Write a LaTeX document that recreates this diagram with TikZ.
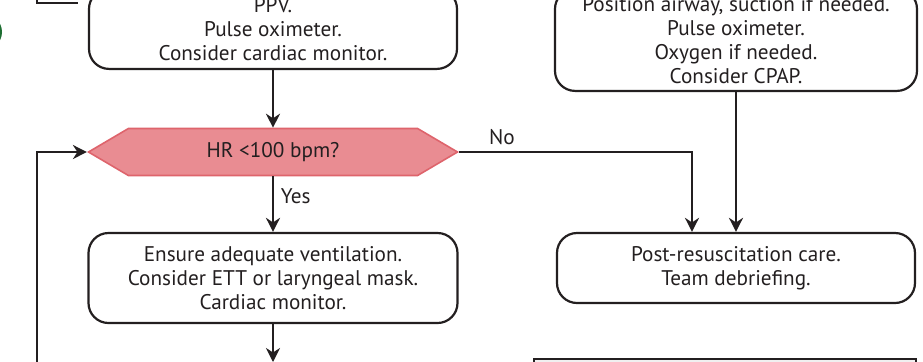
\documentclass[tikz,border=0pt]{standalone}
\usepackage{fontspec}
\setmainfont{PT Sans}
\usetikzlibrary{arrows.meta,shapes.symbols}
\definecolor{hexfill}{RGB}{233,140,146}
\definecolor{hexline}{RGB}{222,100,108}
\definecolor{ink}{RGB}{35,31,32}
\definecolor{startgreen}{RGB}{30,110,50}
\tikzset{
  stepbox/.style={draw=ink, line width=1.1pt, rounded corners=10pt, align=center,
    text=ink, font=\fontsize{10.6}{12}\selectfont},
  decision/.style={signal, signal to=west and east, signal pointer angle=61,
    draw=hexline, fill=hexfill, line width=0.8pt, text=ink,
    minimum width=184.5pt, minimum height=23.5pt, font=\fontsize{10.6}{12}\selectfont},
  flow/.style={draw=ink, line width=1.1pt, -{Stealth[length=7pt,width=7pt]}},
  lbl/.style={text=ink, font=\fontsize{10.6}{12}\selectfont},
}
\begin{document}
\begin{tikzpicture}[x=0.5pt,y=-0.5pt]
\useasboundingbox (0,0) rectangle (923,361);
\clip (0,0) rectangle (923,361);

% boxes
\node[stepbox, minimum width=184pt, minimum height=40pt, anchor=south] (ppv) at (273,70)
  {PPV.\\Pulse oximeter.\\Consider cardiac monitor.};
\node[stepbox, minimum width=181pt, minimum height=51pt, anchor=south] (cpap) at (736,92)
  {Position airway, suction if needed.\\Pulse oximeter.\\Oxygen if needed.\\Consider CPAP.};
\node[decision] (hr) at (273,152) {HR <100 bpm?};
\node[stepbox, minimum width=184.5pt, minimum height=45pt] (vent) at (273,278)
  {Ensure adequate ventilation.\\Consider ETT or laryngeal mask.\\Cardiac monitor.};
\node[stepbox, minimum width=179pt, minimum height=35pt] (post) at (736,268)
  {Post-resuscitation care.\\Team debriefing.};
\node[draw=ink, line width=1.1pt, fill=gray!12, minimum width=191pt, minimum height=30pt,
  anchor=north west] (next) at (533,358) {};
\fill[startgreen] (-16,32) circle (9pt);

% connectors
\coordinate (topa) at (37,-10);
\coordinate (topb) at (78,3);
\draw[draw=ink, line width=1.1pt] (topa) |- (topb);
\draw[flow] (ppv.south) -- (hr.north);
\draw[flow] (hr.south) -- node[lbl, right, pos=0.35] (yes) {Yes} (vent.north);
\coordinate (nobend) at (692,152);
\draw[flow] (hr.east) -- (nobend) -- (nobend |- post.north);
\node[lbl] (no) at (502,137) {No};
\draw[flow] (cpap.south) -- (cpap.south |- post.north);
\coordinate (down) at (273,362);
\draw[flow] (vent.south) -- (down);
\coordinate (loopbot) at (37,380);
\draw[flow] (loopbot) |- (hr.west);
\end{tikzpicture}
\end{document}
